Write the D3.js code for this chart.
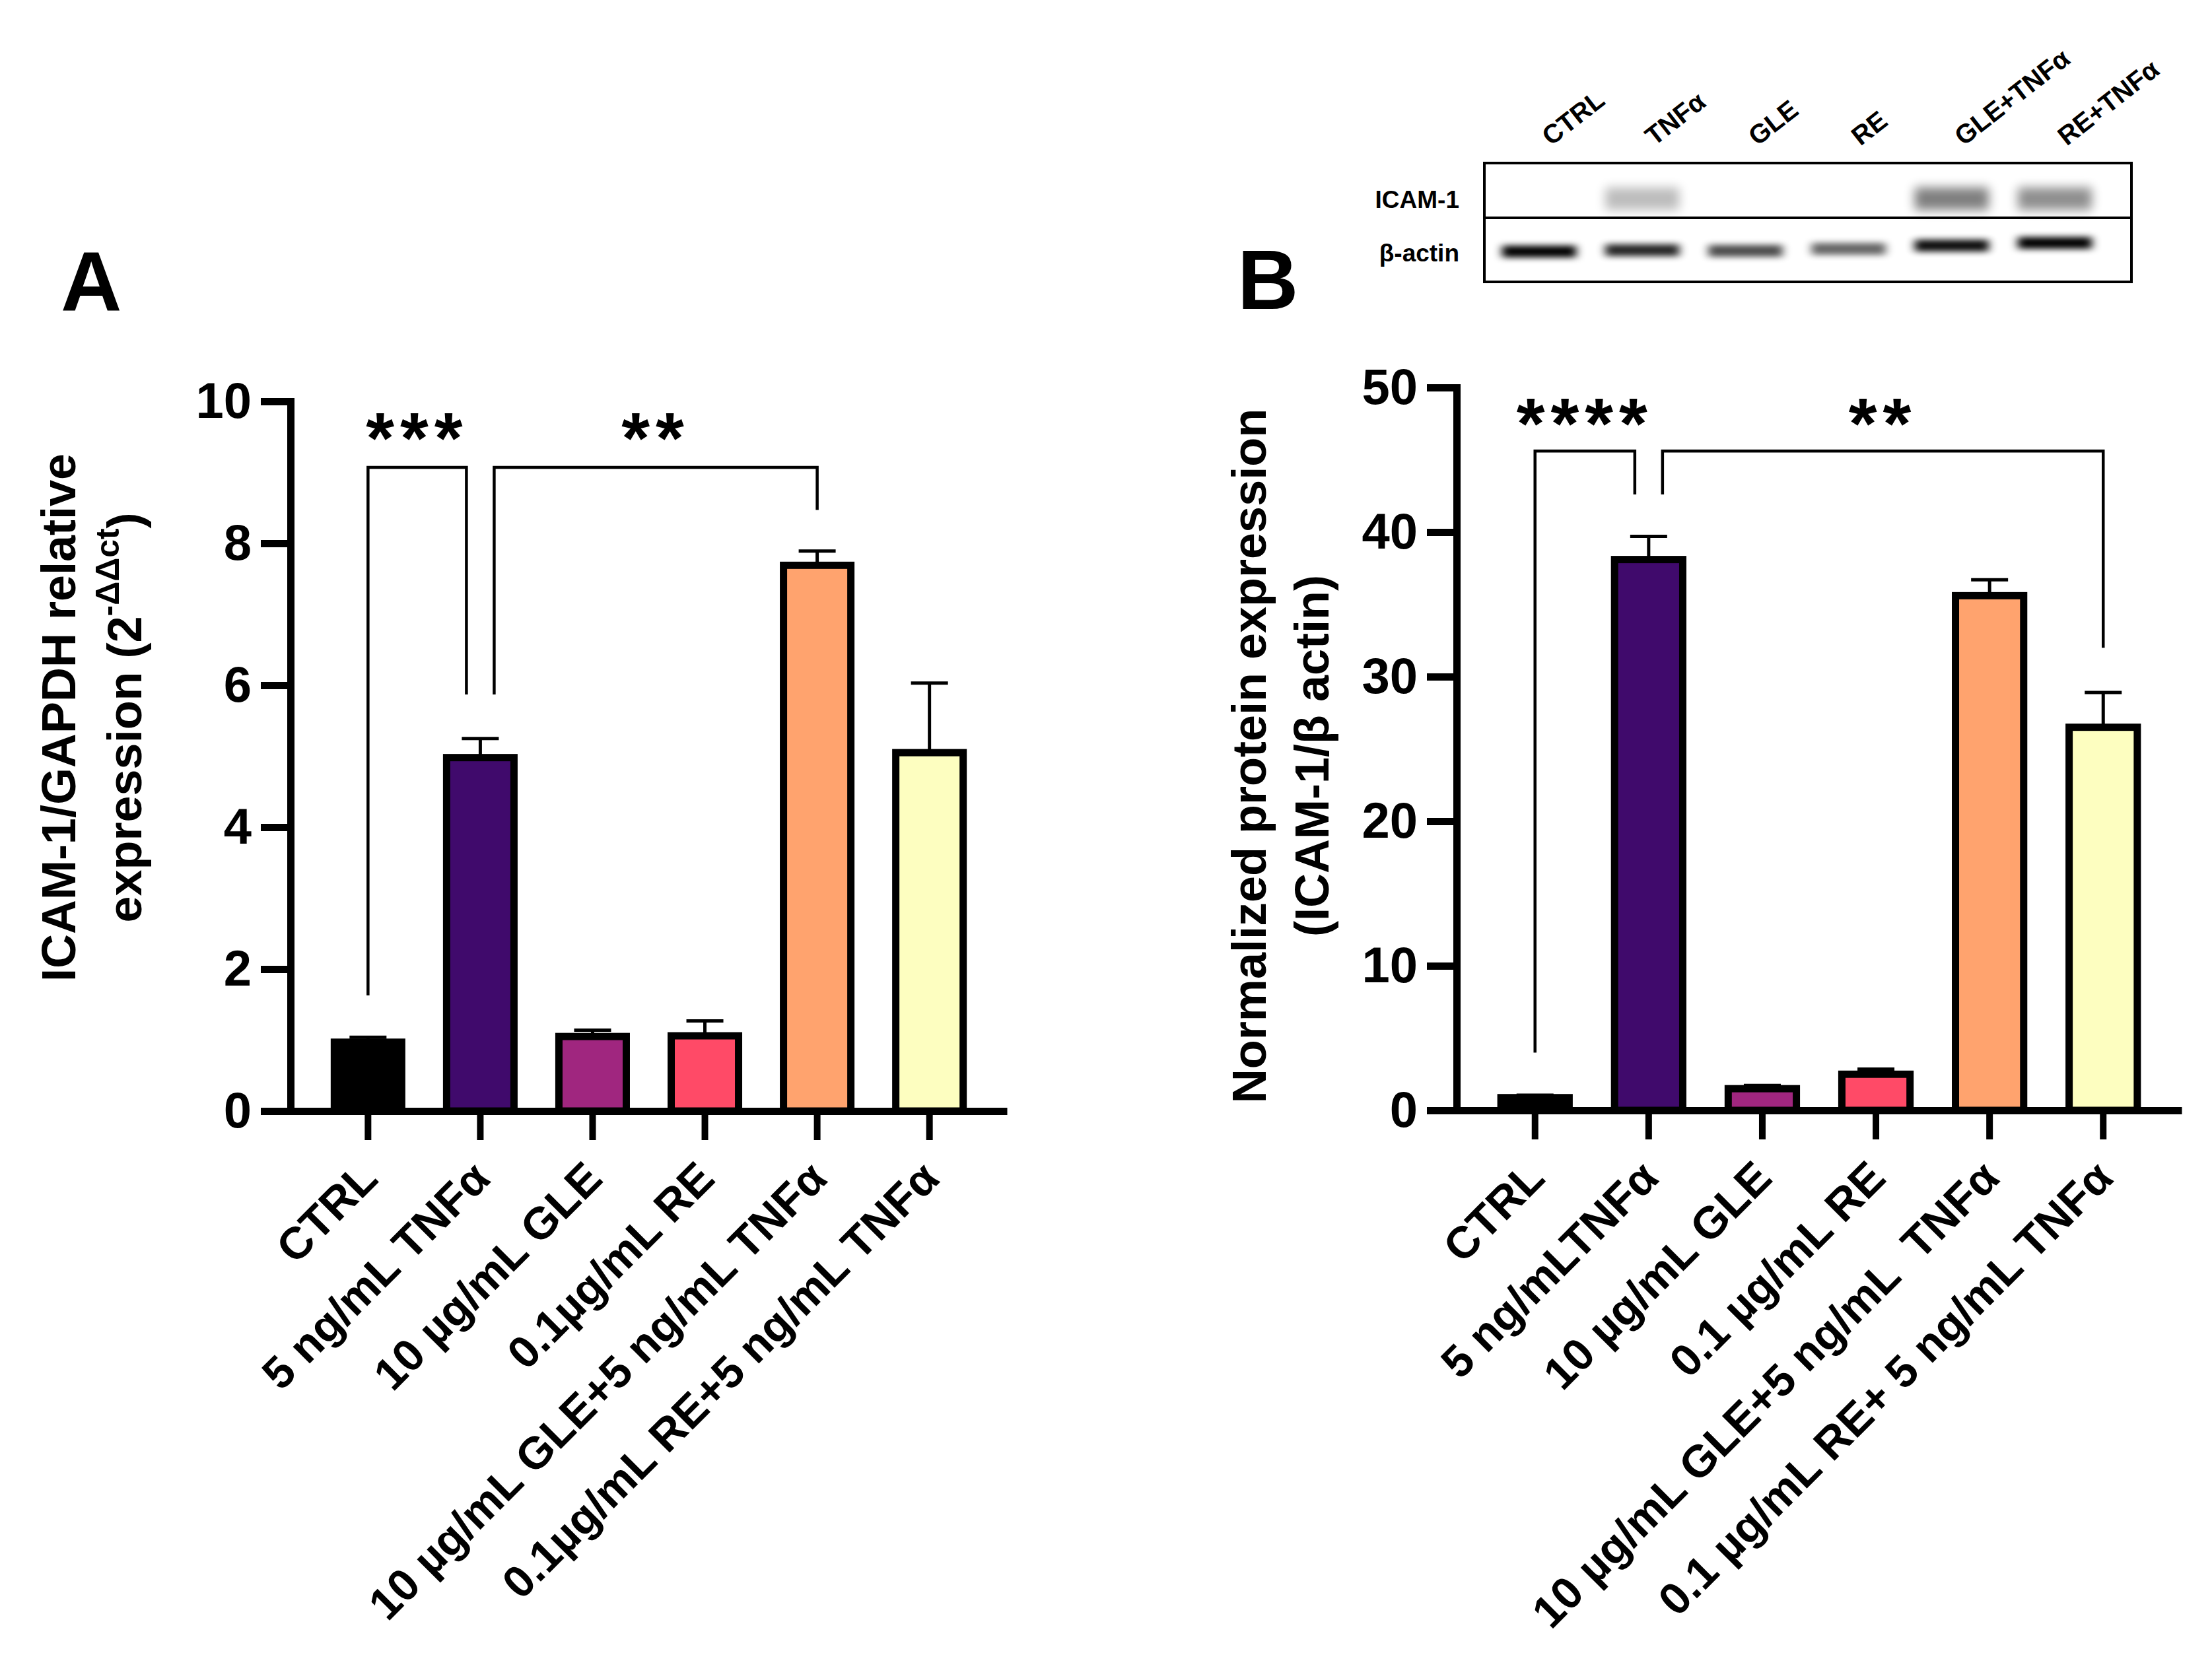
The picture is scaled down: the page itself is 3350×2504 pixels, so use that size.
<!DOCTYPE html>
<html>
<head>
<meta charset="utf-8">
<script src="https://cdn.jsdelivr.net/npm/d3@7"></script>
<style>
  body { margin: 0; background: #fff; }
  text { font-family: "Liberation Sans", Arial, Helvetica, sans-serif; }
</style>
</head>
<body>
<svg id="fig" width="3350" height="2504"></svg>
<script>
// ---- data ----
const groupsA = ['CTRL', '5 ng/mL TNFα', '10 µg/mL GLE', '0.1µg/mL RE', '10 µg/mL GLE+5 ng/mL TNFα', '0.1µg/mL RE+5 ng/mL TNFα'];
const meanA = [0.97, 4.98, 1.05, 1.06, 7.69, 5.05];
const upperA = [1.04, 5.25, 1.14, 1.27, 7.89, 6.03];
const ticksA = [0, 2, 4, 6, 8, 10];

const groupsB = ['CTRL', '5 ng/mLTNFα', '10 µg/mL GLE', '0.1 µg/mL RE', '10 µg/mL GLE+5 ng/mL  TNFα', '0.1 µg/mL RE+ 5 ng/mL TNFα'];
const meanB = [0.88, 38.1, 1.5, 2.5, 35.6, 26.5];
const upperB = [1.05, 39.7, 1.72, 2.85, 36.7, 28.9];
const ticksB = [0, 10, 20, 30, 40, 50];

const barColors = ['#000000', '#400a6c', '#a0267f', '#ff4a67', '#ffa36e', '#fdfec0'];

// significance brackets: bar a to bar b, top level, leg end levels
const sigA = [
  { a: 0, b: 1, top: 9.07, endA: 1.63, endB: 5.87, label: '***' },
  { a: 1, b: 4, top: 9.07, endA: 5.87, endB: 8.47, label: '**' }
];
const sigB = [
  { a: 0, b: 1, top: 45.6, endA: 4.0, endB: 42.6, label: '****' },
  { a: 1, b: 5, top: 45.6, endA: 42.6, endB: 32.0, label: '**' }
];

// western blot
const lanes = ['CTRL', 'TNFα', 'GLE', 'RE', 'GLE+TNFα', 'RE+TNFα'];
const icamDensity = [0, 0.26, 0, 0, 0.5, 0.44];
const actinDensity = [1, 0.85, 0.7, 0.6, 0.95, 1];

// ---- drawing ----
const svg = d3.select('#fig');
svg.append('rect').attr('width', 3350).attr('height', 2504).attr('fill', '#fff');

const defs = svg.append('defs');
defs.append('filter').attr('id', 'blurI').attr('x', '-50%').attr('y', '-100%').attr('width', '200%').attr('height', '300%')
  .append('feGaussianBlur').attr('stdDeviation', '8 8');
defs.append('filter').attr('id', 'blurA').attr('x', '-50%').attr('y', '-100%').attr('width', '200%').attr('height', '300%')
  .append('feGaussianBlur').attr('stdDeviation', '7 5');

function panel(cfg) {
  const g = svg.append('g');
  const n = cfg.groups.length;
  const x = d3.scaleBand().domain(d3.range(n)).range([cfg.left, cfg.right])
    .paddingInner(0.4).paddingOuter(0.39);
  const y = d3.scaleLinear().domain([0, d3.max(cfg.ticks)]).range([cfg.bottom, cfg.top]);
  const cx = i => x(i) + x.bandwidth() / 2;

  // error bars (upper only)
  g.selectAll('line.err').data(cfg.mean).join('line').attr('class', 'err')
    .attr('x1', (d, i) => cx(i)).attr('x2', (d, i) => cx(i))
    .attr('y1', d => y(d)).attr('y2', (d, i) => y(cfg.upper[i]))
    .attr('stroke', '#000').attr('stroke-width', 5);
  g.selectAll('line.cap').data(cfg.upper).join('line').attr('class', 'cap')
    .attr('x1', (d, i) => cx(i) - 28).attr('x2', (d, i) => cx(i) + 28)
    .attr('y1', d => y(d)).attr('y2', d => y(d))
    .attr('stroke', '#000').attr('stroke-width', 5);

  // bars
  g.selectAll('rect.bar').data(cfg.mean).join('rect').attr('class', 'bar')
    .attr('x', (d, i) => x(i)).attr('width', x.bandwidth())
    .attr('y', d => y(d)).attr('height', d => y(0) - y(d))
    .attr('fill', (d, i) => barColors[i])
    .attr('stroke', '#000').attr('stroke-width', 11);

  // y axis
  const ya = g.append('g').attr('transform', `translate(${cfg.left},0)`)
    .call(d3.axisLeft(y).tickValues(cfg.ticks).tickSize(45).tickSizeOuter(0).tickPadding(14));
  ya.select('.domain').attr('stroke', '#000').attr('stroke-width', 11).attr('stroke-linecap', 'square');
  ya.selectAll('.tick line').attr('stroke', '#000').attr('stroke-width', 11);
  ya.selectAll('.tick text').attr('font-size', 76).attr('font-weight', 'bold')
    .attr('font-family', '"Liberation Sans", Arial, sans-serif').attr('fill', '#000');

  // x axis with rotated labels
  const xa = g.append('g').attr('transform', `translate(0,${cfg.bottom})`)
    .call(d3.axisBottom(x).tickSize(44).tickSizeOuter(0).tickFormat(i => cfg.groups[i]));
  xa.select('.domain').attr('stroke', '#000').attr('stroke-width', 11);
  xa.selectAll('.tick line').attr('stroke', '#000').attr('stroke-width', 10);
  xa.selectAll('.tick text')
    .attr('x', 0).attr('y', 0).attr('dy', 0)
    .attr('transform', 'translate(18,106) rotate(-45)')
    .attr('text-anchor', 'end')
    .attr('font-size', 68).attr('font-weight', 'bold')
    .attr('font-family', '"Liberation Sans", Arial, sans-serif').attr('fill', '#000')
    .style('white-space', 'pre');

  // significance brackets
  const legOff = (i, side) =>
    cfg.sig.filter(s => s.a === i || s.b === i).length > 1 ? (side === 'b' ? -21 : 21) : 0;
  cfg.sig.forEach(s => {
    const xa0 = cx(s.a) + legOff(s.a, 'a');
    const xb0 = cx(s.b) + legOff(s.b, 'b');
    g.append('path')
      .attr('d', `M${xa0},${y(s.endA)}V${y(s.top)}H${xb0}V${y(s.endB)}`)
      .attr('fill', 'none').attr('stroke', '#000').attr('stroke-width', 4.5);
    g.append('text')
      .attr('x', (xa0 + xb0) / 2).attr('y', y(cfg.starLevel)).attr('dy', '0.57em')
      .attr('text-anchor', 'middle').attr('font-size', 110).attr('font-weight', 'bold')
      .attr('letter-spacing', 9)
      .text(s.label);
  });

  // y title (two lines)
  g.append('text').attr('transform', `translate(${cfg.title1X},${cfg.titleY}) rotate(-90)`)
    .attr('text-anchor', 'middle').attr('font-size', 72).attr('font-weight', 'bold').text(cfg.title1);
  const t2 = g.append('text').attr('transform', `translate(${cfg.title2X},${cfg.titleY}) rotate(-90)`)
    .attr('text-anchor', 'middle').attr('font-size', 72).attr('font-weight', 'bold');
  cfg.title2(t2);

  g.append('text').attr('x', cfg.letterX).attr('y', cfg.letterY)
    .attr('font-size', 128).attr('font-weight', 'bold').text(cfg.letter);
  return { x, y };
}

panel({
  groups: groupsA, mean: meanA, upper: upperA, ticks: ticksA, sig: sigA,
  left: 440, right: 1525, top: 608, bottom: 1683, starLevel: 9.72,
  title1: 'ICAM-1/GAPDH relative', title1X: 114, title2X: 214, titleY: 1087,
  title2: t => {
    t.append('tspan').text('expression (2');
    t.append('tspan').attr('font-size', 50).attr('dy', -34).text('-ΔΔct');
    t.append('tspan').attr('dy', 34).text(')');
  },
  letter: 'A', letterX: 92, letterY: 471
});

panel({
  groups: groupsB, mean: meanB, upper: upperB, ticks: ticksB, sig: sigB,
  left: 2206, right: 3304, top: 587, bottom: 1682, starLevel: 48.65,
  title1: 'Normalized protein expression', title1X: 1917, title2X: 2012, titleY: 1145,
  title2: t => t.text('(ICAM-1/β actin)'),
  letter: 'B', letterX: 1874, letterY: 468
});

// ---- western blot inset ----
const blot = svg.append('g');
const box = { x0: 2248, x1: 3228, y0: 247, mid: 330, y1: 427 };
const lx = d3.scalePoint().domain(lanes).range([2331, 3112]);
const actinY = [381, 379, 380, 377, 372, 368];

blot.append('rect').attr('x', box.x0).attr('y', box.y0)
  .attr('width', box.x1 - box.x0).attr('height', box.y1 - box.y0)
  .attr('fill', '#fff').attr('stroke', '#000').attr('stroke-width', 4);

blot.selectAll('rect.icam').data(lanes).join('rect').attr('class', 'icam')
  .attr('x', d => lx(d) - 56).attr('width', 112)
  .attr('y', 284).attr('height', 34)
  .attr('fill', '#000').attr('opacity', (d, i) => icamDensity[i])
  .attr('filter', 'url(#blurI)');

blot.selectAll('rect.actin').data(lanes).join('rect').attr('class', 'actin')
  .attr('x', d => lx(d) - 56).attr('width', 112)
  .attr('y', (d, i) => actinY[i] - 9).attr('height', 18)
  .attr('fill', '#000').attr('opacity', (d, i) => actinDensity[i])
  .attr('filter', 'url(#blurA)');

blot.append('line').attr('x1', box.x0).attr('x2', box.x1).attr('y1', box.mid).attr('y2', box.mid)
  .attr('stroke', '#000').attr('stroke-width', 4);

blot.selectAll('text.lane').data(lanes).join('text').attr('class', 'lane')
  .attr('transform', d => `translate(${lx(d) + 18},222) rotate(-38)`)
  .attr('font-size', 40).attr('font-weight', 'bold').text(d => d);

blot.append('text').attr('x', 2210).attr('y', 302).attr('dy', '0.35em')
  .attr('text-anchor', 'end').attr('font-size', 37).attr('font-weight', 'bold').text('ICAM-1');
blot.append('text').attr('x', 2210).attr('y', 383).attr('dy', '0.35em')
  .attr('text-anchor', 'end').attr('font-size', 37).attr('font-weight', 'bold').text('β-actin');
</script>
</body>
</html>
